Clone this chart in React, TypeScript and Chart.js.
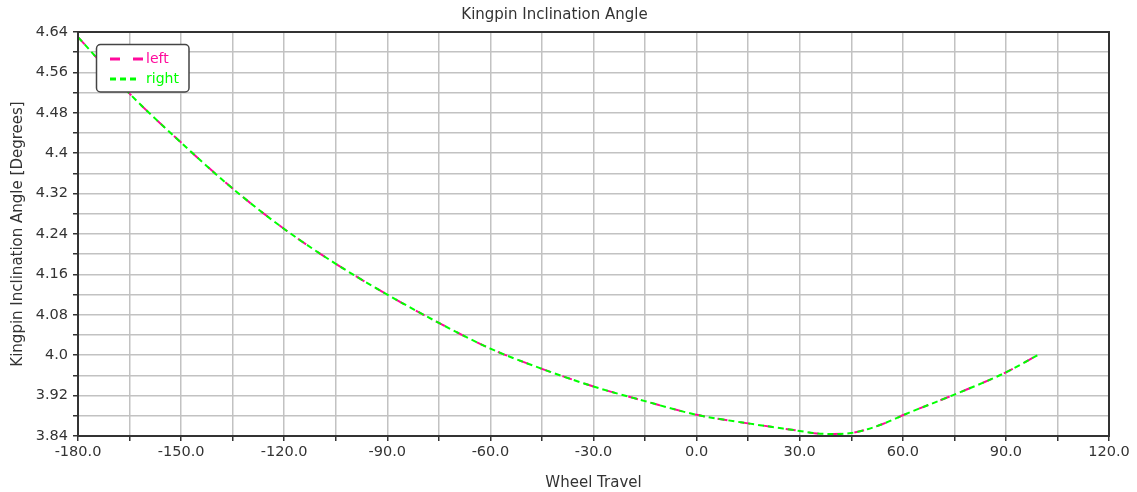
import React, { useEffect, useRef } from "react";
import { Chart, registerables } from "chart.js";

Chart.register(...registerables);

const wheelTravel = [-180, -165, -150, -135, -120, -105, -90, -75, -60, -45, -30, -15, 0, 15, 30, 35, 40, 45, 50, 55, 60, 75, 90, 100];
const leftValues = [4.630, 4.518, 4.421, 4.330, 4.250, 4.181, 4.120, 4.064, 4.013, 3.973, 3.938, 3.909, 3.882, 3.865, 3.850, 3.845, 3.844, 3.846, 3.854, 3.866, 3.881, 3.922, 3.966, 4.003];
const rightValues = [4.630, 4.518, 4.421, 4.330, 4.250, 4.181, 4.120, 4.064, 4.013, 3.973, 3.938, 3.909, 3.882, 3.865, 3.850, 3.845, 3.844, 3.846, 3.854, 3.866, 3.881, 3.922, 3.966, 4.003];
const seriesNames = ["left", "right"];
const chartTitle = "Kingpin Inclination Angle";
const xTitle = "Wheel Travel";
const yTitle = "Kingpin Inclination Angle [Degrees]";

const FONT = "'DejaVu Sans', sans-serif";
const TEXT = "#333333";
const GRID = "#c2c2c2";

const frameAndLegend = {
  id: "frameAndLegend",
  afterDraw(chart: any) {
    const { ctx, chartArea } = chart;
    ctx.save();
    ctx.strokeStyle = "#333333";
    ctx.lineWidth = 2;
    ctx.setLineDash([]);
    ctx.strokeRect(chartArea.left, chartArea.top, chartArea.right - chartArea.left, chartArea.bottom - chartArea.top);

    // legend box
    const bx = 96.5, by = 44.5, bw = 92.5, bh = 47.5;
    ctx.beginPath();
    ctx.roundRect(bx, by, bw, bh, 4);
    ctx.fillStyle = "#ffffff";
    ctx.fill();
    ctx.lineWidth = 1.5;
    ctx.strokeStyle = "#444444";
    ctx.stroke();

    const lineEnds = [143.5, 138];
    chart.data.datasets.forEach((ds: any, i: number) => {
      const y = 59 + i * 20;
      ctx.beginPath();
      ctx.setLineDash(ds.borderDash || []);
      ctx.lineDashOffset = 0;
      ctx.strokeStyle = ds.borderColor;
      ctx.lineWidth = 3;
      ctx.moveTo(110, y);
      ctx.lineTo(lineEnds[i], y);
      ctx.stroke();
      ctx.setLineDash([]);
      ctx.fillStyle = ds.borderColor;
      ctx.font = `14px ${FONT}`;
      ctx.textBaseline = "middle";
      ctx.textAlign = "left";
      ctx.fillText(ds.label, 146, y);
    });
    ctx.restore();
  },
};

function fmtY(v: number) {
  const r = Math.round(v * 100) / 100;
  let s = String(r);
  if (s.indexOf(".") < 0) s += ".0";
  return s;
}

export default function App() {
  const ref = useRef<HTMLCanvasElement | null>(null);

  useEffect(() => {
    document.body.style.margin = "0";
    const canvas = ref.current!;
    const chart = new Chart(canvas, {
      type: "line",
      data: {
        datasets: [
          {
            label: seriesNames[0],
            data: wheelTravel.map((x, i) => ({ x, y: leftValues[i] })),
            borderColor: "#ff0a9c",
            backgroundColor: "#ff0a9c",
            borderWidth: 2,
            borderDash: [10, 13],
            pointRadius: 0,
            cubicInterpolationMode: "monotone",
            order: 1,
          },
          {
            label: seriesNames[1],
            data: wheelTravel.map((x, i) => ({ x, y: rightValues[i] })),
            borderColor: "#00ff00",
            backgroundColor: "#00ff00",
            borderWidth: 2,
            borderDash: [6, 4],
            pointRadius: 0,
            cubicInterpolationMode: "monotone",
            order: 0,
          },
        ],
      },
      options: {
        animation: false,
        responsive: false,
        maintainAspectRatio: false,
        layout: { padding: { left: 0, right: 28, top: 0, bottom: 0 } },
        plugins: {
          legend: { display: false },
          tooltip: { enabled: false },
          title: {
            display: true,
            text: chartTitle,
            color: TEXT,
            font: { family: FONT, size: 15, weight: "normal", lineHeight: 1.2 },
            padding: { top: 6, bottom: 8 },
          },
        },
        scales: {
          x: {
            type: "linear",
            min: -180,
            max: 120,
            afterFit: (s: any) => { s.height = 56; },
            ticks: {
              stepSize: 15,
              autoSkip: false,
              maxRotation: 0,
              padding: 3,
              color: TEXT,
              font: { family: FONT, size: 14.5 },
              callback: (v: any, i: number) => (i % 2 === 0 ? Number(v).toFixed(1) : ""),
            },
            grid: { color: GRID, lineWidth: 1.5, tickColor: "#333333", tickLength: 5, drawTicks: true },
            border: { display: true, color: "#333333", width: 2 },
            title: {
              display: true,
              text: xTitle,
              color: TEXT,
              font: { family: FONT, size: 15, lineHeight: 1.2 },
              padding: { top: 0, bottom: 0 },
            },
          },
          y: {
            type: "linear",
            min: 3.84,
            max: 4.64,
            afterFit: (s: any) => { s.width = 78; },
            ticks: {
              stepSize: 0.04,
              autoSkip: false,
              padding: 5,
              color: TEXT,
              font: { family: FONT, size: 14.5 },
              callback: (v: any, i: number) => (i % 2 === 0 ? fmtY(Number(v)) : ""),
            },
            grid: { color: GRID, lineWidth: 1.5, tickColor: "#333333", tickLength: 5, drawTicks: true },
            border: { display: true, color: "#333333", width: 2 },
            title: {
              display: true,
              text: yTitle,
              color: TEXT,
              font: { family: FONT, size: 15, lineHeight: 1.2 },
              padding: { top: 9, bottom: 0 },
            },
          },
        },
      },
      plugins: [frameAndLegend],
    });
    return () => chart.destroy();
  }, []);

  return (
    <div style={{ position: "fixed", left: 0, top: 0, width: 1137, height: 492, background: "#ffffff" }}>
      <canvas ref={ref} width={1137} height={492} style={{ display: "block", width: 1137, height: 492 }} />
    </div>
  );
}
